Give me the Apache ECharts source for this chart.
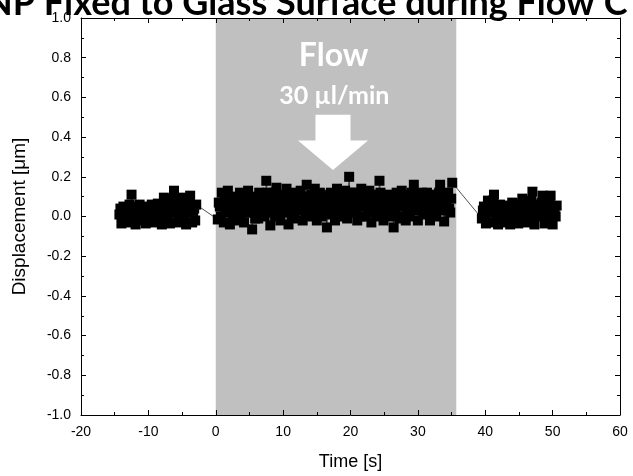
<!DOCTYPE html>
<html>
<head>
<meta charset="utf-8">
<script src="https://cdn.jsdelivr.net/npm/echarts@6/dist/echarts.min.js"></script>
<style>
  html, body { margin: 0; padding: 0; background: #fff; overflow: hidden; }
  #chart { width: 633px; height: 476px; }
</style>
</head>
<body>
<div id="chart"></div>
<script>
// Headline and annotation text
const titleText = 'NP Fixed to Glass Surface during Flow C';
const flowLabel = 'Flow';
const rateLabel = '30 µl/min';
const xAxisName = 'Time [s]';
const yAxisName = 'Displacement [μm]';

// Interval during which the flow is switched on [s]
const flowWindow = [0, 35.7];

// Axis ranges
const timeRange = [-20, 60];
const dispRange = [-1.0, 1.0];

// Particle displacement [time s, displacement µm] before the flow starts
const beforeFlow = [
  [-14.3, 0.01], [-14.15, 0.04], [-14.0, -0.035], [-13.85, 0.02], [-13.7, 0.05], [-13.55, -0.01],
  [-13.4, 0.02], [-13.25, 0.045], [-13.1, -0.03], [-12.95, 0.01], [-12.8, 0.06], [-12.65, 0.03],
  [-12.5, 0.11], [-12.35, 0.05], [-12.2, 0.0], [-12.05, 0.03], [-11.9, -0.04], [-11.75, 0.02],
  [-11.6, 0.04], [-11.45, -0.01], [-11.3, 0.06], [-11.15, 0.03], [-11.0, -0.02], [-10.85, 0.045],
  [-10.7, 0.02], [-10.55, 0.0], [-10.4, -0.035], [-10.25, 0.03], [-10.1, 0.05], [-9.95, -0.01],
  [-9.8, 0.01], [-9.65, 0.04], [-9.5, 0.06], [-9.35, 0.02], [-9.2, -0.03], [-9.05, 0.05],
  [-8.9, 0.03], [-8.75, 0.0], [-8.6, 0.065], [-8.45, 0.03], [-8.3, -0.01], [-8.15, 0.045],
  [-8.0, -0.04], [-7.85, 0.02], [-7.7, 0.095], [-7.55, 0.05], [-7.4, 0.03], [-7.25, -0.01],
  [-7.1, 0.0], [-6.95, 0.04], [-6.8, -0.035], [-6.65, 0.02], [-6.5, 0.06], [-6.35, 0.09],
  [-6.2, 0.13], [-6.05, 0.04], [-5.9, 0.02], [-5.75, 0.06], [-5.6, -0.03], [-5.45, 0.01],
  [-5.3, 0.05], [-5.15, 0.07], [-5.0, 0.095], [-4.85, 0.03], [-4.7, 0.0], [-4.55, 0.05],
  [-4.4, -0.04], [-4.25, 0.02], [-4.1, 0.06], [-3.95, 0.08], [-3.8, 0.105], [-3.65, 0.03],
  [-3.5, -0.03], [-3.35, 0.02], [-3.2, 0.04], [-3.05, -0.02], [-2.9, 0.06]
];

// Displacement while the liquid flows over the surface
const duringFlow = [
  [0.3, -0.015], [0.45, 0.07], [0.6, 0.05], [0.75, 0.0], [0.9, 0.12], [1.05, 0.06],
  [1.2, -0.03], [1.35, 0.09], [1.5, 0.03], [1.65, 0.07], [1.8, 0.13], [1.95, 0.02],
  [2.1, -0.04], [2.25, 0.05], [2.4, 0.08], [2.55, -0.01], [2.7, 0.01], [2.85, 0.1],
  [3.0, 0.06], [3.15, 0.03], [3.3, -0.02], [3.45, 0.08], [3.6, 0.12], [3.75, 0.0],
  [3.9, 0.04], [4.05, 0.09], [4.2, -0.03], [4.35, 0.05], [4.5, 0.1], [4.65, 0.02],
  [4.8, 0.13], [4.95, 0.07], [5.1, 0.02], [5.25, 0.1], [5.4, -0.065], [5.55, 0.03],
  [5.7, 0.06], [5.85, -0.01], [6.0, 0.09], [6.15, 0.05], [6.3, -0.01], [6.45, 0.12],
  [6.6, 0.04], [6.75, 0.07], [6.9, 0.11], [7.05, 0.03], [7.2, 0.0], [7.35, 0.08],
  [7.5, 0.18], [7.65, 0.12], [7.8, 0.07], [7.95, 0.02], [8.1, -0.045], [8.25, 0.09],
  [8.4, 0.03], [8.55, 0.06], [8.7, 0.12], [8.85, 0.0], [9.0, 0.145], [9.15, 0.08],
  [9.3, 0.05], [9.45, 0.11], [9.6, -0.02], [9.75, 0.04], [9.9, 0.09], [10.05, 0.06],
  [10.2, 0.02], [10.35, 0.1], [10.5, 0.14], [10.65, 0.03], [10.8, -0.04], [10.95, 0.08],
  [11.1, 0.06], [11.25, 0.0], [11.4, 0.11], [11.55, 0.04], [11.7, -0.01], [11.85, 0.12],
  [12.0, 0.08], [12.15, 0.05], [12.3, 0.03], [12.45, 0.09], [12.6, 0.13], [12.75, 0.06],
  [12.9, -0.02], [13.05, 0.1], [13.2, 0.05], [13.35, 0.01], [13.5, 0.16], [13.65, 0.08],
  [13.8, 0.1], [13.95, 0.04], [14.1, 0.0], [14.25, 0.11], [14.4, 0.07], [14.55, 0.02],
  [14.7, 0.14], [14.85, 0.09], [15.0, -0.02], [15.15, 0.06], [15.3, 0.04], [15.45, 0.12],
  [15.6, 0.11], [15.75, 0.0], [15.9, 0.02], [16.05, 0.1], [16.2, 0.08], [16.35, 0.03],
  [16.5, -0.055], [16.65, 0.06], [16.8, 0.03], [16.95, 0.09], [17.1, 0.12], [17.25, 0.01],
  [17.4, 0.06], [17.55, 0.1], [17.7, -0.02], [17.85, 0.07], [18.0, 0.14], [18.15, 0.03],
  [18.3, 0.09], [18.45, 0.12], [18.6, 0.01], [18.75, 0.08], [18.9, 0.05], [19.05, 0.0],
  [19.2, 0.13], [19.35, 0.06], [19.5, -0.01], [19.65, 0.1], [19.8, 0.2], [19.95, 0.04],
  [20.1, 0.07], [20.25, 0.12], [20.4, 0.02], [20.55, 0.08], [20.7, 0.12], [20.85, 0.03],
  [21.0, -0.02], [21.15, 0.1], [21.3, 0.05], [21.45, 0.0], [21.6, 0.14], [21.75, 0.06],
  [21.9, 0.09], [22.05, 0.12], [22.2, 0.0], [22.35, 0.08], [22.5, 0.06], [22.65, 0.02],
  [22.8, 0.13], [22.95, 0.09], [23.1, -0.03], [23.25, 0.05], [23.4, 0.04], [23.55, 0.11],
  [23.7, 0.1], [23.85, 0.0], [24.0, 0.02], [24.15, 0.08], [24.3, 0.18], [24.45, 0.12],
  [24.6, 0.07], [24.75, 0.03], [24.9, -0.02], [25.05, 0.09], [25.2, 0.05], [25.35, 0.01],
  [25.5, 0.11], [25.65, 0.06], [25.8, 0.0], [25.95, 0.1], [26.1, 0.08], [26.25, 0.03],
  [26.4, -0.055], [26.55, 0.07], [26.7, 0.03], [26.85, 0.12], [27.0, 0.1], [27.15, 0.0],
  [27.3, -0.01], [27.45, 0.06], [27.6, 0.13], [27.75, 0.09], [27.9, 0.05], [28.05, 0.11],
  [28.2, -0.02], [28.35, 0.04], [28.5, 0.09], [28.65, 0.0], [28.8, 0.02], [28.95, 0.07],
  [29.1, 0.12], [29.25, 0.05], [29.4, 0.16], [29.55, 0.1], [29.7, 0.04], [29.85, 0.08],
  [30.0, -0.02], [30.15, 0.03], [30.3, 0.07], [30.45, 0.11], [30.6, 0.12], [30.75, 0.05],
  [30.9, 0.01], [31.05, 0.08], [31.2, 0.09], [31.35, 0.12], [31.5, 0.05], [31.65, 0.02],
  [31.8, -0.02], [31.95, 0.07], [32.1, 0.03], [32.25, 0.1], [32.4, 0.11], [32.55, 0.04],
  [32.7, 0.0], [32.85, 0.08], [33.0, 0.08], [33.15, 0.12], [33.3, 0.16], [33.45, 0.06],
  [33.6, 0.03], [33.75, 0.1], [33.9, -0.025], [34.05, 0.05], [34.2, 0.06], [34.35, 0.11],
  [34.5, 0.12], [34.65, 0.04], [34.8, 0.02], [34.95, 0.09], [35.1, 0.17]
];

// Displacement after the flow is stopped
const afterFlow = [
  [39.5, -0.01], [39.65, 0.03], [39.8, 0.05], [39.95, 0.01], [40.1, -0.035], [40.25, 0.04],
  [40.4, 0.08], [40.55, 0.05], [40.7, 0.02], [40.85, 0.06], [41.0, -0.03], [41.15, 0.08],
  [41.3, 0.11], [41.45, 0.02], [41.6, 0.04], [41.75, 0.0], [41.9, -0.04], [42.05, 0.03],
  [42.2, 0.06], [42.35, 0.02], [42.5, 0.01], [42.65, 0.045], [42.8, -0.03], [42.95, 0.02],
  [43.1, 0.055], [43.25, -0.01], [43.4, 0.02], [43.55, 0.05], [43.7, -0.04], [43.85, 0.03],
  [44.0, 0.07], [44.15, 0.02], [44.3, 0.0], [44.45, 0.05], [44.6, 0.04], [44.75, 0.01],
  [44.9, -0.035], [45.05, 0.03], [45.2, 0.065], [45.35, 0.02], [45.5, 0.09], [45.65, 0.04],
  [45.8, 0.01], [45.95, 0.05], [46.1, -0.03], [46.25, 0.02], [46.4, 0.05], [46.55, 0.0],
  [46.7, 0.02], [46.85, 0.08], [47.0, 0.125], [47.15, 0.05], [47.3, -0.04], [47.45, 0.02],
  [47.6, 0.06], [47.75, 0.03], [47.9, 0.0], [48.05, 0.05], [48.2, 0.03], [48.35, 0.07],
  [48.5, 0.105], [48.65, 0.02], [48.8, -0.035], [48.95, 0.03], [49.1, 0.05], [49.25, 0.01],
  [49.4, 0.0], [49.55, 0.06], [49.7, 0.105], [49.85, 0.03], [50.0, -0.04], [50.15, 0.02],
  [50.3, 0.03], [50.45, 0.0], [50.6, 0.055]
];

// Flow arrow, in data units: tip, head base, shaft top, half widths
const arrowSpec = { x: 17.4, tip: 0.234, headBase: 0.383, shaftTop: 0.512, headHalf: 5.2, shaftHalf: 2.6 };
const flowLabelPos = [17.5, 0.81];
const rateLabelPos = [17.6, 0.607];

const chart = echarts.init(document.getElementById('chart'), null, { renderer: 'canvas' });

const labelFont = { fontFamily: 'Liberation Sans, Arial, sans-serif', fontSize: 14, color: '#000' };
const nameFont = { fontFamily: 'Liberation Sans, Arial, sans-serif', fontSize: 18, color: '#000' };

function frameAxis(extra) {
  return Object.assign({
    type: 'value',
    z: 5,
    axisLine: { show: true, onZero: false, lineStyle: { color: '#000', width: 1 } },
    axisTick: { show: true, inside: true, length: 5, lineStyle: { color: '#000' } },
    minorTick: { show: true, splitNumber: 2, length: 3, lineStyle: { color: '#000' } },
    splitLine: { show: false },
    minorSplitLine: { show: false }
  }, extra);
}

const fmtY = v => (Math.abs(v) < 1e-9 ? 0 : v).toFixed(1);

const option = {
  backgroundColor: '#fff',
  animation: false,
  grid: { left: 81, right: 13, top: 18, bottom: 57, containLabel: false },
  xAxis: [
    frameAxis({
      position: 'bottom', min: timeRange[0], max: timeRange[1], interval: 10,
      name: xAxisName, nameLocation: 'middle', nameGap: 38,
      nameTextStyle: nameFont,
      axisLabel: Object.assign({ margin: 10 }, labelFont)
    }),
    frameAxis({
      position: 'top', min: timeRange[0], max: timeRange[1], interval: 10,
      axisLabel: { show: false }
    })
  ],
  yAxis: [
    frameAxis({
      position: 'left', min: dispRange[0], max: dispRange[1], interval: 0.2,
      name: yAxisName, nameLocation: 'middle', nameGap: 52,
      nameTextStyle: Object.assign({}, nameFont, { fontSize: 19 }),
      axisLabel: Object.assign({ margin: 10, formatter: fmtY }, labelFont)
    }),
    frameAxis({
      position: 'right', min: dispRange[0], max: dispRange[1], interval: 0.2,
      axisLabel: { show: false }
    })
  ],
  series: [
    {
      // shaded band marking the flow period
      type: 'line',
      xAxisIndex: 0, yAxisIndex: 0,
      data: [],
      z: 1,
      silent: true,
      markArea: {
        silent: true,
        itemStyle: { color: '#c0c0c0' },
        data: [[{ xAxis: flowWindow[0] }, { xAxis: flowWindow[1] }]]
      }
    },
    {
      type: 'line',
      xAxisIndex: 0, yAxisIndex: 0,
      z: 3,
      data: beforeFlow.concat(duringFlow, afterFlow),
      symbol: 'rect',
      symbolSize: 10,
      showSymbol: true,
      showAllSymbol: true,
      itemStyle: { color: '#000' },
      lineStyle: { color: '#222', width: 0.8 }
    }
  ]
};

chart.setOption(option);

// Annotations placed in data coordinates
const px = p => chart.convertToPixel({ xAxisIndex: 0, yAxisIndex: 0 }, p);
const a = arrowSpec;
const arrowPts = [
  [a.x - a.shaftHalf, a.shaftTop], [a.x + a.shaftHalf, a.shaftTop],
  [a.x + a.shaftHalf, a.headBase], [a.x + a.headHalf, a.headBase],
  [a.x, a.tip],
  [a.x - a.headHalf, a.headBase], [a.x - a.shaftHalf, a.headBase]
].map(px);
const flowPx = px(flowLabelPos);
const ratePx = px(rateLabelPos);

chart.setOption({
  graphic: [
    {
      type: 'text', left: -15, top: -15, z: 20,
      style: { text: titleText, fontFamily: 'Lato, sans-serif', fontWeight: 'bold', fontSize: 36, fill: '#000' }
    },
    {
      type: 'polygon', z: 10, silent: true,
      shape: { points: arrowPts },
      style: { fill: '#fff' }
    },
    {
      type: 'text', x: flowPx[0], y: flowPx[1], z: 10, silent: true,
      style: { text: flowLabel, fontFamily: 'Lato, sans-serif', fontWeight: 'bold', fontSize: 32, fill: '#fff', align: 'center', verticalAlign: 'middle' }
    },
    {
      type: 'text', x: ratePx[0], y: ratePx[1], z: 10, silent: true,
      style: { text: rateLabel, fontFamily: 'Lato, sans-serif', fontWeight: 'bold', fontSize: 25, fill: '#fff', align: 'center', verticalAlign: 'middle' }
    }
  ]
});
</script>
</body>
</html>
